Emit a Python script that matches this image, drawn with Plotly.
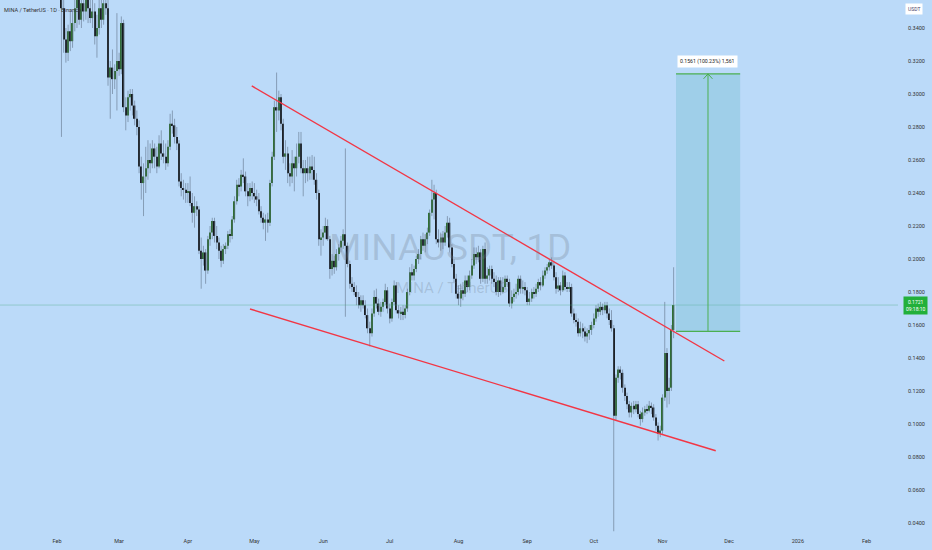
import pandas as pd
import plotly.graph_objects as go

# daily MINA/USDT candles, 2025-02-03 .. 2025-11-06 (one line per month)
opens = [
    .395, .352, .333, .325, .338, .332, .343, .352, .362, .345, .355, .350, .358, .352, .346, .350, .335, .340, .352, .345, .355, .352, .310, .316, .309, .314,
    .320, .315, .343, .292, .287, .298, .300, .293, .285, .280, .256, .246, .250, .255, .260, .258, .267, .262, .256, .270, .264, .262, .258, .268, .282, .281, .274, .270, .247, .243, .242,
    .240, .241, .234, .228, .232, .230, .205, .200, .204, .193, .212, .216, .223, .214, .210, .205, .199, .206, .208, .215, .214, .224, .235, .245, .244, .251, .250, .241, .238, .243,
    .240, .238, .236, .229, .225, .222, .224, .222, .246, .262, .292, .290, .298, .282, .262, .264, .252, .250, .258, .255, .262, .270, .255, .252, .255, .252, .256, .254, .248, .240, .212,
    .213, .216, .220, .212, .194, .199, .195, .203, .207, .211, .215, .208, .197, .185, .183, .180, .177, .172, .175, .172, .166, .158, .155, .167, .177, .173, .168, .171, .174, .181,
    .170, .164, .174, .184, .169, .167, .168, .166, .170, .180, .192, .190, .194, .200, .203, .212, .208, .212, .216, .228, .236, .240, .212, .210, .213, .210, .216, .222, .207, .197, .188,
    .179, .176, .181, .179, .187, .183, .190, .196, .203, .201, .204, .188, .206, .188, .190, .194, .188, .186, .180, .187, .180, .183, .188, .186, .173, .177, .179, .180, .188, .182, .183,
    .181, .174, .176, .180, .179, .182, .186, .184, .190, .193, .195, .198, .196, .189, .182, .184, .181, .190, .183, .182, .183, .167, .163, .162, .155, .158, .156, .153, .155, .157,
    .160, .164, .170, .168, .171, .169, .172, .167, .163, .158, .105, .128, .133, .131, .122, .117, .112, .107, .111, .109, .112, .106, .103, .107, .109, .108, .111, .110, .104, .099, .094,
    .096, .116, .143, .120, .122, .157,
]
highs = [
    .400, .358, .340, .342, .350, .350, .360, .370, .368, .365, .368, .372, .365, .362, .360, .355, .348, .360, .365, .362, .365, .358, .320, .327, .318, .349,
    .325, .347, .345, .298, .302, .303, .303, .296, .290, .284, .262, .258, .268, .272, .270, .272, .270, .268, .275, .278, .272, .270, .272, .288, .290, .285, .280, .272, .252, .248, .246,
    .246, .250, .240, .238, .235, .232, .213, .208, .206, .214, .220, .225, .225, .220, .213, .208, .209, .210, .217, .218, .226, .238, .248, .249, .254, .261, .253, .246, .246, .247,
    .246, .242, .240, .232, .228, .227, .228, .248, .265, .296, .313, .302, .300, .285, .272, .268, .258, .266, .262, .270, .277, .277, .260, .260, .262, .262, .263, .262, .252, .242, .218,
    .220, .225, .224, .214, .203, .202, .206, .209, .214, .218, .267, .210, .199, .189, .186, .184, .180, .178, .178, .175, .170, .162, .170, .181, .182, .176, .174, .176, .185, .183,
    .173, .176, .187, .186, .172, .171, .172, .172, .182, .195, .197, .196, .202, .206, .214, .216, .215, .219, .230, .248, .245, .242, .218, .216, .217, .220, .226, .225, .209, .200, .191,
    .184, .185, .186, .190, .190, .193, .200, .207, .207, .208, .206, .208, .210, .195, .196, .196, .192, .190, .189, .189, .189, .190, .190, .188, .181, .182, .185, .190, .190, .187, .186,
    .183, .180, .182, .183, .185, .188, .189, .193, .195, .197, .200, .201, .199, .192, .189, .186, .193, .192, .186, .186, .185, .170, .167, .164, .162, .161, .159, .158, .160, .162,
    .167, .172, .173, .174, .173, .174, .174, .170, .169, .160, .130, .135, .135, .133, .124, .119, .114, .113, .114, .114, .114, .108, .110, .111, .112, .114, .113, .112, .106, .101, .099,
    .118, .174, .146, .128, .160, .195,
]
lows = [
    .274, .325, .319, .320, .326, .328, .338, .340, .342, .340, .344, .345, .343, .343, .340, .330, .322, .336, .340, .342, .348, .305, .285, .300, .303, .290,
    .311, .312, .289, .278, .283, .290, .287, .281, .275, .252, .236, .226, .240, .248, .252, .255, .255, .252, .255, .260, .258, .254, .256, .266, .276, .270, .266, .244, .238, .236, .234,
    .234, .232, .222, .219, .226, .203, .182, .196, .185, .191, .208, .212, .210, .206, .200, .195, .197, .203, .206, .210, .212, .222, .233, .238, .241, .246, .238, .232, .235, .236,
    .234, .232, .227, .222, .218, .211, .216, .220, .244, .260, .277, .284, .278, .258, .254, .246, .244, .246, .241, .250, .258, .252, .238, .246, .247, .248, .248, .245, .236, .208, .202,
    .208, .212, .211, .188, .190, .191, .193, .199, .204, .206, .165, .195, .182, .180, .178, .172, .170, .168, .170, .164, .155, .147, .153, .165, .170, .166, .165, .168, .172, .167,
    .161, .162, .172, .167, .164, .163, .163, .164, .168, .178, .187, .187, .192, .197, .200, .205, .204, .209, .214, .226, .224, .209, .207, .205, .206, .208, .213, .204, .195, .186, .176,
    .172, .171, .175, .177, .180, .181, .188, .194, .197, .198, .185, .186, .185, .185, .187, .185, .183, .178, .177, .178, .179, .181, .183, .171, .170, .174, .176, .178, .179, .179, .178,
    .172, .172, .174, .176, .177, .180, .181, .183, .188, .191, .193, .194, .187, .179, .180, .178, .180, .181, .180, .180, .165, .161, .159, .153, .153, .152, .150, .149, .151, .154,
    .158, .162, .165, .166, .166, .167, .164, .160, .156, .035, .102, .125, .127, .119, .114, .109, .104, .104, .106, .107, .104, .099, .101, .105, .106, .107, .106, .102, .096, .090, .092,
    .094, .114, .110, .112, .120, .152,
]
closes = [
    .352, .333, .325, .338, .332, .343, .352, .362, .345, .355, .350, .358, .352, .346, .350, .335, .340, .352, .345, .355, .352, .310, .316, .309, .314, .320,
    .315, .343, .292, .287, .298, .300, .293, .285, .280, .256, .246, .250, .255, .260, .258, .267, .262, .256, .270, .264, .262, .258, .268, .282, .281, .274, .270, .247, .243, .242, .240,
    .241, .234, .228, .232, .230, .205, .200, .204, .193, .212, .216, .223, .214, .210, .205, .199, .206, .208, .215, .214, .224, .235, .245, .244, .251, .250, .241, .238, .243, .240,
    .238, .236, .229, .225, .222, .224, .222, .246, .262, .292, .290, .298, .282, .262, .264, .252, .250, .258, .255, .262, .270, .255, .252, .255, .252, .256, .254, .248, .240, .212, .213,
    .216, .220, .212, .194, .199, .195, .203, .207, .211, .215, .208, .197, .185, .183, .180, .177, .172, .175, .172, .166, .158, .155, .167, .177, .173, .168, .171, .174, .181, .170,
    .164, .174, .184, .169, .167, .168, .166, .170, .180, .192, .190, .194, .200, .203, .212, .208, .212, .216, .228, .236, .240, .212, .210, .213, .210, .216, .222, .207, .197, .188, .179,
    .176, .181, .179, .187, .183, .190, .196, .203, .201, .204, .188, .206, .188, .190, .194, .188, .186, .180, .187, .180, .183, .188, .186, .173, .177, .179, .180, .188, .182, .183, .181,
    .174, .176, .180, .179, .182, .186, .184, .190, .193, .195, .198, .196, .189, .182, .184, .181, .190, .183, .182, .183, .167, .163, .162, .155, .158, .156, .153, .155, .157, .160,
    .164, .170, .168, .171, .169, .172, .167, .163, .158, .105, .128, .133, .131, .122, .117, .112, .107, .111, .109, .112, .106, .103, .107, .109, .108, .111, .110, .104, .099, .094, .096,
    .116, .143, .120, .122, .157, .1721,
]
assert len(opens) == len(highs) == len(lows) == len(closes)
dates = pd.date_range('2025-02-03', periods=len(closes), freq='D')

month_ticks = ['2025-02-01', '2025-03-01', '2025-04-01', '2025-05-01', '2025-06-01', '2025-07-01',
               '2025-08-01', '2025-09-01', '2025-10-01', '2025-11-01', '2025-12-01', '2026-01-01', '2026-02-01']
month_labels = ['Feb', 'Mar', 'Apr', 'May', 'Jun', 'Jul', 'Aug', 'Sep', 'Oct', 'Nov', 'Dec', '2026', 'Feb']

# drawings: wedge lines and the long-position tool
upper_line = (['2025-04-29 19:00', '2025-11-28 21:00'], [0.3049, 0.1382])
lower_line = (['2025-04-29 00:00', '2025-11-25 00:00'], [0.1697, 0.0838])
entry, target = 0.1561, 0.3122
box_dates = ['2025-11-07 02:00', '2025-12-06 00:00']
arrow_date = '2025-11-21 12:00'
last_price = 0.1721

BG = '#bbdaf9'
UP = '#2f6f33'
DOWN = '#15191d'
WICK = 'rgba(90,106,128,0.55)'
RED = '#f23645'
GREEN = '#4caf50'

fig = go.Figure()

# wicks
wx, wy = [], []
for d, h, l in zip(dates, highs, lows):
    wx += [d, d, None]
    wy += [l, h, None]
fig.add_trace(go.Scatter(x=wx, y=wy, mode='lines', line=dict(color=WICK, width=1),
                         hoverinfo='skip', showlegend=False))

# bodies
base = [min(o, c) for o, c in zip(opens, closes)]
size = [max(abs(c - o), 0.0006) for o, c in zip(opens, closes)]
cols = [UP if c >= o else DOWN for o, c in zip(opens, closes)]
fig.add_trace(go.Bar(x=dates, y=size, base=base, width=0.6 * 86400000,
                     marker=dict(color=cols, line=dict(width=0)), showlegend=False))

# price line
fig.add_shape(type='line', xref='paper', x0=0, x1=1, yref='y', y0=last_price, y1=last_price,
              line=dict(color='rgba(70,165,120,0.35)', width=1))

# wedge
for xs, ys in (upper_line, lower_line):
    fig.add_shape(type='line', xref='x', yref='y', x0=xs[0], y0=ys[0], x1=xs[1], y1=ys[1],
                  line=dict(color=RED, width=1.4))

# long position box
fig.add_shape(type='rect', xref='x', yref='y', x0=box_dates[0], x1=box_dates[1], y0=entry, y1=target,
              fillcolor='rgba(100,182,200,0.32)', line=dict(width=0), layer='above')
for yv in (entry, target):
    fig.add_shape(type='line', xref='x', yref='y', x0=box_dates[0], x1=box_dates[1], y0=yv, y1=yv,
                  line=dict(color=GREEN, width=1.3))
fig.add_shape(type='line', xref='x', yref='y', x0=arrow_date, x1=arrow_date, y0=entry, y1=target,
              line=dict(color=GREEN, width=1))
for side in ('2025-11-19 12:00', '2025-11-23 12:00'):
    fig.add_shape(type='line', xref='x', yref='y', x0=side, y0=target - 0.003, x1=arrow_date, y1=target,
                  line=dict(color=GREEN, width=1))
fig.add_annotation(x=arrow_date, y=target, xref='x', yref='y', yshift=12, showarrow=False,
                   text='0.1561 (100.23%) 1,561', bgcolor='white', borderpad=2,
                   font=dict(family='Roboto', size=5.2, color='#222'))

# watermark
fig.add_annotation(x=0.501, y=0.534, xref='paper', yref='paper', showarrow=False,
                   text='MINAUSDT, 1D', font=dict(family='Roboto', size=37, color='rgba(110,122,142,0.28)'))
fig.add_annotation(x=0.503, y=0.459, xref='paper', yref='paper', showarrow=False,
                   text='MINA / TetherUS', font=dict(family='Roboto', size=15, color='rgba(110,122,142,0.28)'))

# header
fig.add_annotation(x=0, y=1, xref='paper', yref='paper', xanchor='left', yanchor='top',
                   xshift=2, yshift=-5, showarrow=False, text='MINA / TetherUS · 1D · Binance',
                   font=dict(family='Roboto', size=5.6, color='#333'))

# axis extras
fig.add_annotation(x=1, y=1, xref='paper', yref='paper', xanchor='left', yanchor='top',
                   xshift=7, yshift=-3, showarrow=False, text='USDT', bgcolor='white', borderpad=2,
                   font=dict(family='Roboto', size=5, color='#4b3f6b'))
fig.add_annotation(x=1, y=last_price, xref='paper', yref='y', xanchor='left',
                   xshift=5, showarrow=False, text='0.1721<br>09:18:10', bgcolor='#22b03a', borderpad=2,
                   align='center', font=dict(family='Roboto', size=5, color='white'))

fig.update_layout(
    width=932, height=550,
    margin=dict(l=0, r=34, t=0, b=18),
    paper_bgcolor=BG, plot_bgcolor=BG,
    showlegend=False,
    xaxis=dict(type='date', range=['2025-01-06 07:00', '2026-02-15 04:00'],
               showgrid=False, zeroline=False, showline=False, ticks='',
               tickvals=month_ticks, ticktext=month_labels, ticklabelstandoff=4,
               tickfont=dict(family='Roboto', size=5.5, color='#333')),
    yaxis=dict(side='right', range=[0.03455, 0.35697], showgrid=False, zeroline=False,
               showline=False, ticks='', tick0=0.04, dtick=0.02, tickformat='.4f',
               ticklabelstandoff=9, tickfont=dict(family='Roboto', size=5.5, color='#333')),
)

# drop the page's default body margin so the figure sits at the window's corner
fig.write_html('out.html', config={'displayModeBar': False},
               post_script="document.body.style.margin='0';document.body.style.overflow='hidden';")
